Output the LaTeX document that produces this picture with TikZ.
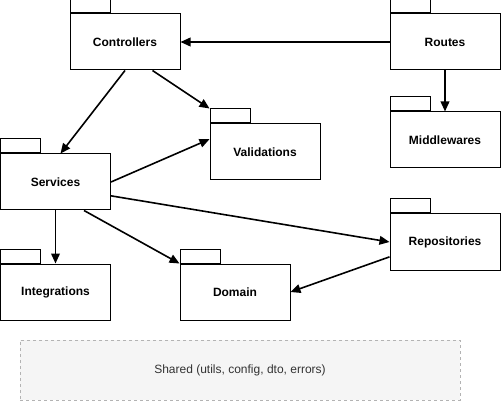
\documentclass[tikz,border=0pt]{standalone}
\usepackage{fontspec}
\setmainfont{Liberation Sans}
\usepackage{tikz}
\usetikzlibrary{arrows.meta}
\definecolor{sharedfill}{HTML}{F5F5F5}
\definecolor{sharedline}{HTML}{B3B3B3}
\definecolor{sharedtext}{HTML}{333333}

\begin{document}
\begin{tikzpicture}[x=0.75pt, y=-0.75pt, >={Triangle[length=7.5pt, width=6.5pt]},
        dep/.style={->, line width=1.2pt},
        package/.style={draw, line width=0.75pt, minimum width=82.5pt, minimum height=42pt, inner sep=0pt, font=\bfseries\fontsize{9}{11}\selectfont},
        pkgtab/.style={draw, line width=0.75pt, minimum width=30pt, minimum height=10.5pt, inner sep=0pt, anchor=south west}]
            \useasboundingbox (0,0) rectangle (502,402);
            % packages
            \node [package] (Controllers) at (125,42) {Controllers};
            \node [package] (Routes) at (445,42) {Routes};
            \node [package] (Middlewares) at (445,140) {Middlewares};
            \node [package] (Validations) at (265,152) {Validations};
            \node [package] (Services) at (55.5,182) {Services};
            \node [package] (Repositories) at (445,242) {Repositories};
            \node [package] (Integrations) at (55.5,292) {Integrations};
            \node [package] (Domain) at (235,292) {Domain};
            % tabs
            \node [pkgtab] (ControllersTab) at (Controllers.north west) {};
            \node [pkgtab] (RoutesTab) at (Routes.north west) {};
            \node [pkgtab] (MiddlewaresTab) at (Middlewares.north west) {};
            \node [pkgtab] (ValidationsTab) at (Validations.north west) {};
            \node [pkgtab] (ServicesTab) at (Services.north west) {};
            \node [pkgtab] (RepositoriesTab) at (Repositories.north west) {};
            \node [pkgtab] (IntegrationsTab) at (Integrations.north west) {};
            \node [pkgtab] (DomainTab) at (Domain.north west) {};
            % shared layer
            \node [draw=sharedline, dash pattern=on 2.25pt off 2.25pt, fill=sharedfill, text=sharedtext,
                minimum width=330pt, minimum height=45pt, font=\fontsize{9}{11}\selectfont] (Shared) at (240,370)
                {Shared (utils, config, dto, errors)};
            % dependencies
            \draw [dep] (Routes.west) -- (Controllers.east);
            \draw [dep] (Routes.south) -- (Middlewares.north);
            \draw [dep] (Controllers.south) -- (Services.80);
            \draw [dep] (Controllers.-46) -- (ValidationsTab.north west);
            \draw [dep] (Services.east) -- (Validations.167);
            \draw [dep] (Services.-14) -- (Repositories.west);
            \draw [dep] (Services.-45) -- (Domain.north west);
            \draw [dep] (Services.south) -- (Integrations.north);
            \draw [dep] (Repositories.195) -- (Domain.east);
        \end{tikzpicture}
\end{document}
